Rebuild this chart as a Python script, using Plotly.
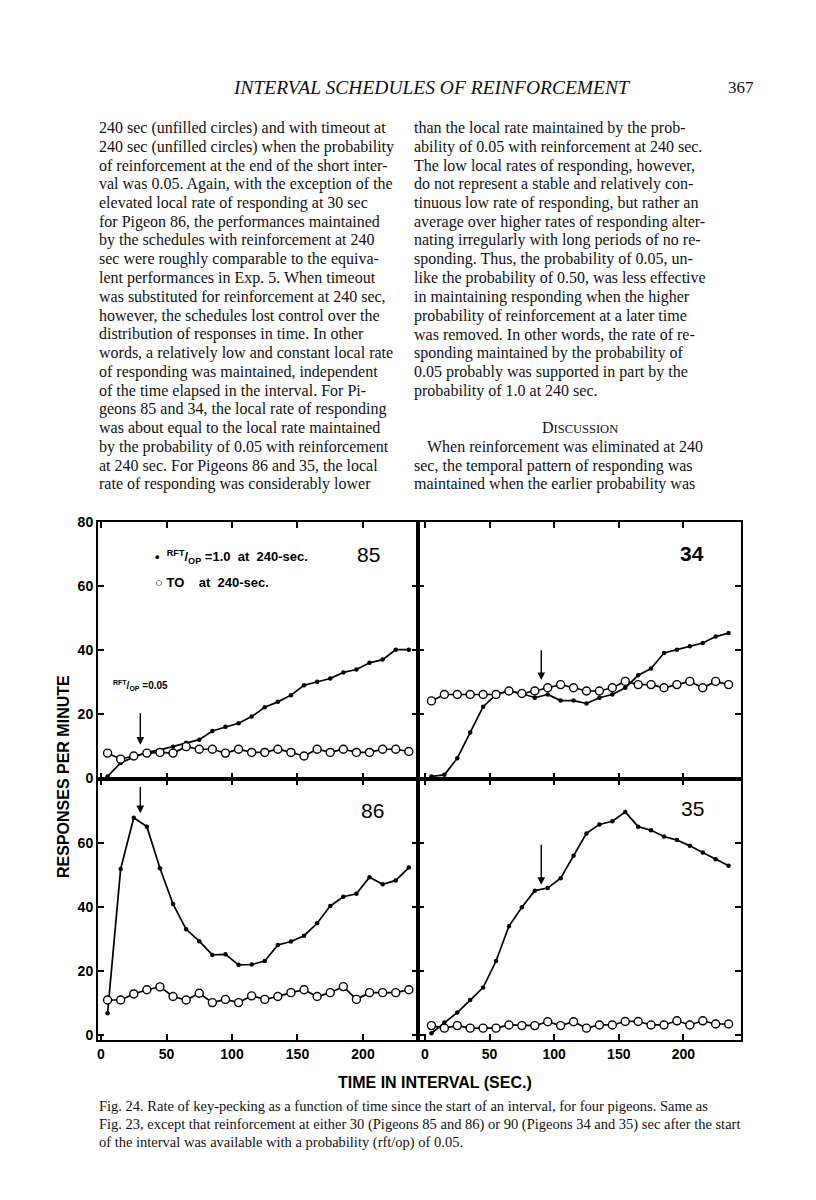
import plotly.graph_objects as go
from plotly.subplots import make_subplots

# ---------------- data ----------------
time_sec = [5, 15, 25, 35, 45, 55, 65, 75, 85, 95, 105, 115,
            125, 135, 145, 155, 165, 175, 185, 195, 205, 215, 225, 235]

p85_rft = [0.5, 4.7, 6.6, 8.0, 8.8, 9.8, 11.0, 12.0, 14.7, 16.0, 17.1, 19.2,
           22.1, 23.8, 25.9, 29.0, 30.1, 31.1, 33.0, 33.9, 36.0, 37.0, 40.1, 40.1]
p85_to = [7.8, 5.9, 6.9, 7.8, 8.0, 7.8, 9.8, 9.0, 9.0, 7.8, 9.0, 8.0,
          8.0, 9.0, 8.0, 6.9, 9.0, 8.0, 9.0, 8.0, 8.0, 9.0, 9.0, 8.3]

p34_rft = [0.5, 1.0, 6.2, 14.2, 22.3, 26.1, 27.2, 26.4, 25.1, 26.1, 24.2, 24.2,
           23.3, 25.1, 26.1, 28.2, 32.1, 34.2, 39.1, 40.1, 41.2, 42.2, 44.2, 45.3]
p34_to = [24.1, 26.1, 26.1, 26.1, 26.1, 26.1, 27.2, 26.4, 27.2, 28.2, 29.2, 28.2,
          27.2, 27.2, 28.2, 30.2, 29.2, 29.2, 28.2, 29.2, 30.2, 28.2, 30.2, 29.2]

p86_rft = [6.8, 51.9, 67.9, 65.1, 52.1, 40.9, 33.0, 29.3, 25.0, 25.2, 21.9, 22.0,
           23.1, 28.1, 29.2, 31.0, 34.9, 40.3, 43.2, 44.1, 49.3, 47.1, 48.3, 52.3]
p86_to = [10.9, 10.9, 12.8, 14.1, 15.0, 12.0, 10.9, 13.0, 10.1, 11.1, 10.1, 12.2,
          11.1, 12.0, 13.2, 14.1, 12.0, 13.2, 15.1, 11.1, 13.2, 13.2, 13.2, 14.1]

p35_rft = [0.5, 3.9, 7.0, 10.9, 14.8, 23.1, 34.0, 39.9, 45.1, 45.9, 49.0, 56.0,
           63.0, 65.8, 66.8, 69.7, 65.1, 64.0, 62.0, 60.9, 59.1, 57.0, 54.9, 52.9]
p35_to = [2.9, 2.1, 2.9, 2.1, 2.1, 2.1, 3.1, 2.9, 2.9, 4.1, 2.9, 4.1,
          2.1, 3.1, 3.1, 4.2, 4.2, 3.1, 3.1, 4.4, 3.1, 4.4, 3.4, 3.4]

pigeon_labels = ["85", "34", "86", "35"]
arrow_time = [30, 90, 30, 90]
arrow_tail = [20.7, 40.4, 78.0, 59.9]
arrow_head = [10.4, 30.6, 69.3, 46.9]

x_ticks = [0, 50, 100, 150, 200]
y_ticks_top = [0, 20, 40, 60, 80]
y_ticks_bottom = [0, 20, 40, 60]

header_title = "INTERVAL SCHEDULES OF REINFORCEMENT"
page_number = "367"

left_lines = [
    "240 sec (unfilled circles) and with timeout at",
    "240 sec (unfilled circles) when the probability",
    "of reinforcement at the end of the short inter-",
    "val was 0.05. Again, with the exception of the",
    "elevated local rate of responding at 30 sec",
    "for Pigeon 86, the performances maintained",
    "by the schedules with reinforcement at 240",
    "sec were roughly comparable to the equiva-",
    "lent performances in Exp. 5. When timeout",
    "was substituted for reinforcement at 240 sec,",
    "however, the schedules lost control over the",
    "distribution of responses in time. In other",
    "words, a relatively low and constant local rate",
    "of responding was maintained, independent",
    "of the time elapsed in the interval. For Pi-",
    "geons 85 and 34, the local rate of responding",
    "was about equal to the local rate maintained",
    "by the probability of 0.05 with reinforcement",
    "at 240 sec. For Pigeons 86 and 35, the local",
    "rate of responding was considerably lower",
]
right_lines = [
    "than the local rate maintained by the prob-",
    "ability of 0.05 with reinforcement at 240 sec.",
    "The low local rates of responding, however,",
    "do not represent a stable and relatively con-",
    "tinuous low rate of responding, but rather an",
    "average over higher rates of responding alter-",
    "nating irregularly with long periods of no re-",
    "sponding. Thus, the probability of 0.05, un-",
    "like the probability of 0.50, was less effective",
    "in maintaining responding when the higher",
    "probability of reinforcement at a later time",
    "was removed. In other words, the rate of re-",
    "sponding maintained by the probability of",
    "0.05 probably was supported in part by the",
    "probability of 1.0 at 240 sec.",
]
discussion_heading = 'D<span style="font-size:12.5px">ISCUSSION</span>'
discussion_lines = [
    "When reinforcement was eliminated at 240",
    "sec, the temporal pattern of responding was",
    "maintained when the earlier probability was",
]
caption_lines = [
    "Fig. 24. Rate of key-pecking as a function of time since the start of an interval, for four pigeons. Same as",
    "Fig. 23, except that reinforcement at either 30 (Pigeons 85 and 86) or 90 (Pigeons 34 and 35) sec after the start",
    "of the interval was available with a probability (rft/op) of 0.05.",
]

# ---------------- layout geometry (page pixels) ----------------
OFF = 8                      # default body margin of the html page
W, H = 816 - OFF, 1200 - OFF
L, R, T, B = 98, 741, 522, 1040
XDIV, YDIV = 418, 779
xs = (XDIV - L) / (R - L)
ys = (B - YDIV) / (B - T)


def px(xp):
    return (xp - L) / (R - L)


def py(yp):
    return (B - yp) / (B - T)


fig = make_subplots(rows=2, cols=2, horizontal_spacing=0, vertical_spacing=0)

panels = [
    (1, 1, p85_rft, p85_to),
    (1, 2, p34_rft, p34_to),
    (2, 1, p86_rft, p86_to),
    (2, 2, p35_rft, p35_to),
]

for i, (r, c, rft, to) in enumerate(panels):
    fig.add_trace(go.Scatter(
        x=time_sec, y=rft, mode="lines+markers",
        line=dict(color="black", width=1.7),
        marker=dict(color="black", size=4.5),
        showlegend=False, hoverinfo="skip"), row=r, col=c)
    fig.add_trace(go.Scatter(
        x=time_sec, y=to, mode="lines+markers",
        line=dict(color="black", width=1.7),
        marker=dict(symbol="circle", color="white", size=8,
                    line=dict(color="black", width=1.4)),
        showlegend=False, hoverinfo="skip"), row=r, col=c)

tick_font = dict(family="Liberation Sans, Arial, sans-serif", size=14,
                 color="black", weight="bold")
common_axis = dict(showline=True, linecolor="black", linewidth=2, mirror="ticks",
                   ticks="inside", ticklen=6, tickwidth=1.5, tickcolor="black",
                   showgrid=False, zeroline=False, tickfont=tick_font)

for i, (r, c, rft, to) in enumerate(panels):
    xdom = [0, xs] if c == 1 else [xs, 1]
    ydom = [ys, 1] if r == 1 else [0, ys]
    xr = [-2.3, 242] if c == 1 else [-5.4, 244.6]
    yr = [-0.3, 80] if r == 1 else [-1.6, 80]
    fig.update_xaxes(common_axis, domain=xdom, range=xr, tickvals=x_ticks,
                     showticklabels=(r == 2), row=r, col=c)
    fig.update_yaxes(common_axis, domain=ydom, range=yr,
                     tickvals=y_ticks_top if r == 1 else y_ticks_bottom,
                     showticklabels=(c == 1), row=r, col=c)

axnames = [("x", "y"), ("x2", "y2"), ("x3", "y3"), ("x4", "y4")]
label_pos = [(204, 69.7), (207, 70.3), (207, 70.3), (207, 70.9)]
label_weight = ["normal", "bold", "normal", "normal"]

annotations = []
for i in range(4):
    xa, ya = axnames[i]
    annotations.append(dict(
        x=arrow_time[i], y=arrow_head[i], ax=arrow_time[i], ay=arrow_tail[i],
        xref=xa, yref=ya, axref=xa, ayref=ya, text="", showarrow=True,
        arrowhead=2, arrowsize=1.1, arrowwidth=1.4, arrowcolor="black"))
    annotations.append(dict(
        x=label_pos[i][0], y=label_pos[i][1], xref=xa, yref=ya,
        xanchor="center", yanchor="middle",
        text=pigeon_labels[i], showarrow=False,
        font=dict(family="Liberation Sans, Arial, sans-serif", size=21,
                  color="black", weight=label_weight[i])))

legend_font = dict(family="Liberation Sans, Arial, sans-serif", size=13,
                   color="black", weight="bold")
annotations.append(dict(
    x=40, y=69, xref="x", yref="y", xanchor="left", yanchor="middle",
    showarrow=False,
    text="•  <sup>RFT</sup>/<sub>OP</sub> =1.0  at  240-sec.", font=legend_font))
annotations.append(dict(
    x=40, y=61, xref="x", yref="y", xanchor="left", yanchor="middle",
    showarrow=False, text="○ TO    at  240-sec.", font=legend_font))
annotations.append(dict(
    x=8, y=29, xref="x", yref="y", xanchor="left", yanchor="middle",
    showarrow=False, text="<sup>RFT</sup>/<sub>OP</sub> =0.05",
    font=dict(family="Liberation Sans, Arial, sans-serif", size=10,
              color="black", weight="bold")))


def page_text(x, y, text, font, xanchor="left", angle=0):
    return dict(x=px(x), y=py(y), xref="paper", yref="paper",
                xanchor=xanchor, yanchor="middle", textangle=angle,
                text=text, showarrow=False, font=font)


title_font = dict(family="Liberation Sans Narrow, Liberation Sans, Arial, sans-serif",
                  size=16, color="black", weight="bold")
annotations.append(page_text(63, 777, "RESPONSES PER MINUTE", title_font,
                             xanchor="center", angle=-90))
annotations.append(page_text(435, 1082, "TIME IN INTERVAL (SEC.)", title_font,
                             xanchor="center"))

serif = "Liberation Serif, Times New Roman, serif"
body_font = dict(family=serif, size=16, color="#111111")
annotations.append(page_text(431, 88, "<i>" + header_title + "</i>",
                             dict(family=serif, size=19.5, color="#111111"),
                             xanchor="center"))
annotations.append(page_text(741, 88, page_number,
                             dict(family=serif, size=17, color="#111111"),
                             xanchor="center"))

LINE0, STEP = 128, 18.75
for n, line in enumerate(left_lines):
    annotations.append(page_text(97, LINE0 + n * STEP, line, body_font))
for n, line in enumerate(right_lines):
    annotations.append(page_text(412, LINE0 + n * STEP, line, body_font))
annotations.append(page_text(580, LINE0 + 16 * STEP, discussion_heading,
                             dict(family=serif, size=16, color="#111111"),
                             xanchor="center"))
for n, line in enumerate(discussion_lines):
    annotations.append(page_text(425 if n == 0 else 412,
                                 LINE0 + (17 + n) * STEP, line, body_font))

cap_font = dict(family=serif, size=14.5, color="#111111")
for n, line in enumerate(caption_lines):
    annotations.append(page_text(97, 1106 + n * 18, line, cap_font))

fig.update_layout(
    width=W, height=H,
    margin=dict(l=L - OFF, r=816 - R, t=T - OFF, b=1200 - B, pad=0),
    paper_bgcolor="white", plot_bgcolor="white",
    showlegend=False, annotations=annotations)

fig.write_html("out.html")
